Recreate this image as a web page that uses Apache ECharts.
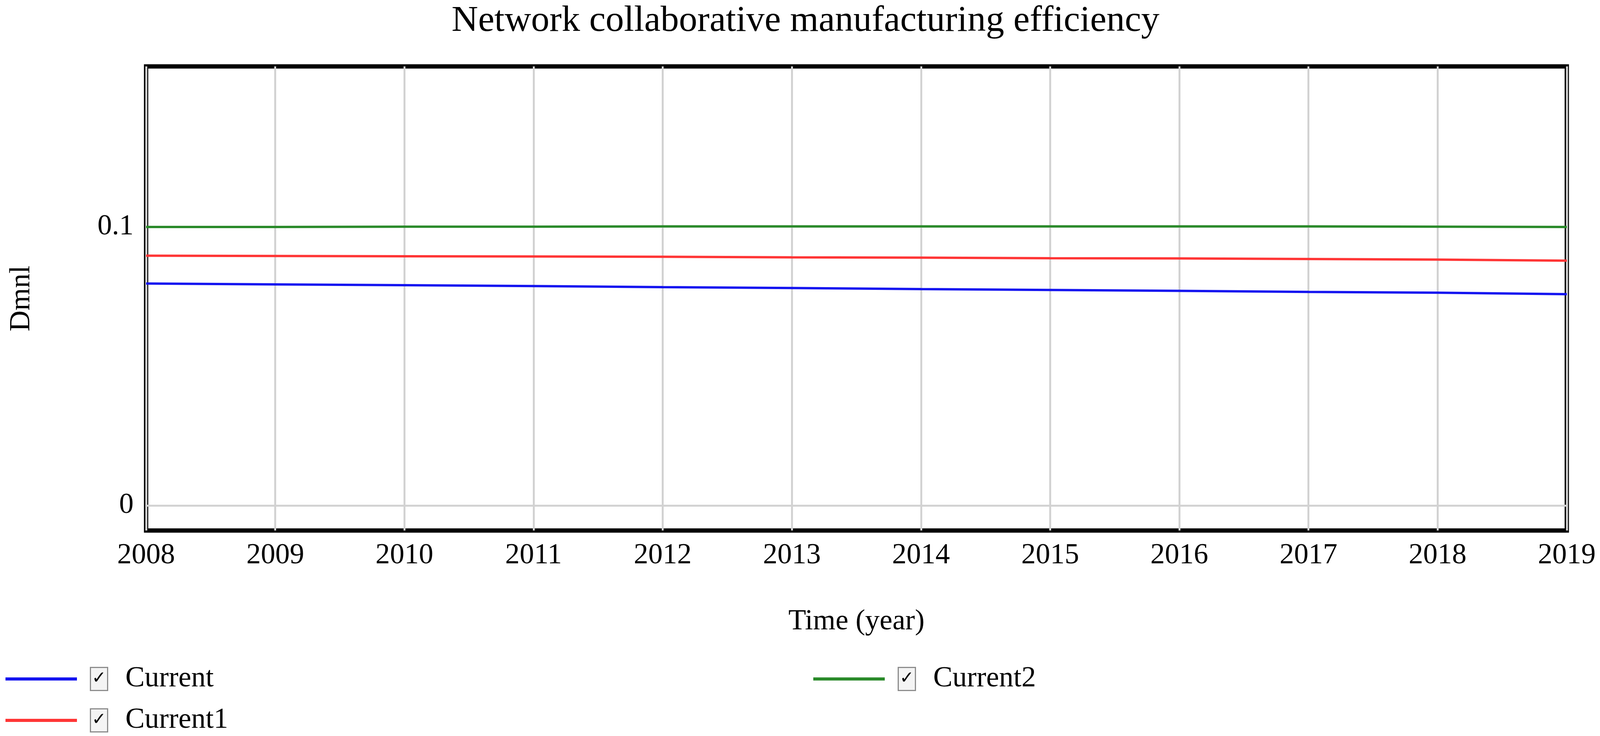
<!DOCTYPE html>
<html>
<head>
<meta charset="utf-8">
<title>Network collaborative manufacturing efficiency</title>
<script src="https://cdn.jsdelivr.net/npm/echarts@6/dist/echarts.min.js"></script>
<style>
  html, body { margin: 0; padding: 0; background: #fff; overflow: hidden; }
  #main { width: 100vw; height: 100vh; }
</style>
</head>
<body>
<div id="main"></div>
<script>
// data
var years = [2008, 2009, 2010, 2011, 2012, 2013, 2014, 2015, 2016, 2017, 2018, 2019];
var current = [0.0796, 0.0793, 0.0790, 0.0787, 0.0783, 0.0780, 0.0776, 0.0773, 0.0770, 0.0766, 0.0763, 0.0758];
var current1 = [0.0896, 0.0895, 0.0894, 0.0893, 0.0892, 0.0890, 0.0889, 0.0887, 0.0886, 0.0884, 0.0882, 0.0878];
var current2 = [0.0999, 0.0999, 0.1000, 0.1000, 0.1001, 0.1001, 0.1001, 0.1001, 0.1001, 0.1001, 0.1000, 0.0999];
var yTicks = [0, 0.1];

var serif = '"Liberation Serif", "Times New Roman", serif';

// the layout was measured on a 4550x1884 picture; scale it to the real window
var sx = window.innerWidth / 4550;
var sy = window.innerHeight / 1884;
var sf = Math.sqrt(sx * sy);
function X(v) { return Math.round(v * sx); }
function Y(v) { return Math.round(v * sy); }
function F(v) { return Math.round(v * sf); }

function pairs(vals) {
    var out = [];
    for (let i = 0; i < years.length; i++) {
        out.push([years[i], vals[i]]);
    }
    return out;
}

// legend text with a ticked box in front of the name
var legendText = {
    fontFamily: serif,
    fontSize: F(78),
    color: '#000',
    lineHeight: Y(72),
    rich: {
        sp: { width: X(34) },
        box: {
            width: X(46),
            height: Y(56),
            lineHeight: Y(56),
            align: 'center',
            verticalAlign: 'middle',
            borderColor: '#8c8c8c',
            borderWidth: 3,
            backgroundColor: '#f4f4f4',
            fontFamily: '"DejaVu Sans"',
            fontSize: F(46),
            color: '#000'
        },
        sp2: { width: X(52) }
    }
};
function legendFmt(name) {
    return '{sp|}{box|\u2713}{sp2|}' + name;
}
// one legend per entry, placed like the two-column key of the original
function legendAt(name, left, top) {
    return {
        data: [name],
        left: X(left),
        top: Y(top),
        padding: 0,
        itemWidth: X(203),
        itemHeight: Y(8),
        icon: 'rect',
        selectedMode: false,
        formatter: legendFmt,
        textStyle: legendText
    };
}

var myChart = echarts.init(document.getElementById('main'));
var option = {
    animation: false,
    backgroundColor: '#fff',
    title: {
        text: 'Network collaborative manufacturing efficiency',
        left: X(1279),
        top: Y(2),
        textStyle: {
            fontFamily: serif,
            fontSize: Math.round(104 * sx),
            fontWeight: 'normal',
            color: '#000'
        }
    },
    legend: [
        legendAt('Current', 15, 1701),
        legendAt('Current1', 15, 1807),
        legendAt('Current2', 2313, 1701)
    ],
    grid: {
        show: true,
        left: X(415),
        right: X(94),
        top: Y(170),
        bottom: Y(526),
        borderColor: '#000',
        borderWidth: 11,
        containLabel: false
    },
    xAxis: {
        type: 'value',
        min: 2008,
        max: 2019,
        interval: 1,
        name: 'Time (year)',
        nameLocation: 'middle',
        nameGap: Y(197),
        nameTextStyle: { fontFamily: serif, fontSize: F(78), color: '#000' },
        axisLine: { show: false },
        axisTick: { show: false },
        axisLabel: {
            margin: Y(28),
            fontFamily: serif,
            fontSize: F(78),
            color: '#000',
            formatter: function (v) { return String(v); }
        },
        splitLine: { show: true, lineStyle: { color: '#d2d2d2', width: 5 } }
    },
    yAxis: {
        type: 'value',
        min: -0.009,
        max: 0.1575,
        name: 'Dmnl',
        nameLocation: 'middle',
        nameGap: X(312),
        nameTextStyle: { fontFamily: serif, fontSize: F(78), color: '#000' },
        axisLine: { show: false },
        axisTick: { show: false, customValues: yTicks },
        axisLabel: {
            margin: X(36),
            fontFamily: serif,
            fontSize: F(78),
            color: '#000',
            customValues: yTicks
        },
        splitLine: { show: true, lineStyle: { color: '#d2d2d2', width: 5 } }
    },
    series: [
        {
            name: 'Current',
            type: 'line',
            showSymbol: false,
            data: pairs(current),
            itemStyle: { color: '#1414f0' },
            lineStyle: { color: '#1414f0', width: 6 }
        },
        {
            name: 'Current1',
            type: 'line',
            showSymbol: false,
            data: pairs(current1),
            itemStyle: { color: '#ff3535' },
            lineStyle: { color: '#ff3535', width: 6 }
        },
        {
            name: 'Current2',
            type: 'line',
            showSymbol: false,
            data: pairs(current2),
            itemStyle: { color: '#2a8a2a' },
            lineStyle: { color: '#2a8a2a', width: 6 }
        }
    ]
};
myChart.setOption(option);
</script>
</body>
</html>
